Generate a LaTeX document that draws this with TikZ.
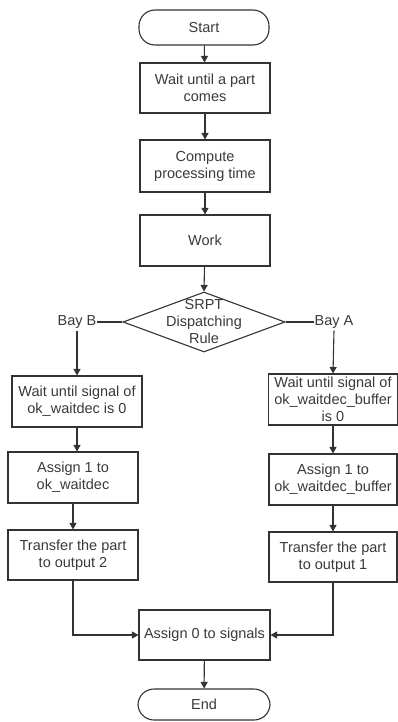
\documentclass[tikz,border=0pt]{standalone}
\usepackage{fontspec}
\setmainfont{Liberation Sans}
\usetikzlibrary{shapes.geometric,arrows.meta}
\definecolor{ln}{HTML}{333333}
\definecolor{tx}{HTML}{3A3A3A}
\begin{document}
\begin{tikzpicture}[x=1pt,y=-1pt,
  every node/.style={font=\fontsize{14.5}{17}\selectfont,text=tx,inner sep=0pt,align=center},
  box/.style={draw=ln,line width=1.1pt,fill=white,rectangle,minimum width=#1},
  box/.default=130pt,
  term/.style={draw=ln,line width=1.1pt,fill=white,rectangle,rounded corners=16pt,minimum width=130pt,minimum height=32pt},
  dia/.style={draw=ln,line width=1.1pt,fill=white,diamond,minimum width=162pt,minimum height=60pt},
  lbl/.style={fill=white},
  arr/.style={draw=ln,line width=1.1pt,-{Triangle[length=6.5pt,width=7pt]}},
  con/.style={draw=ln,line width=1.1pt}]
\useasboundingbox[fill=white] (0,0) rectangle (398,722);
\node[term,minimum height=35pt] (start) at (204,27.5) {Start};
\node[box,minimum height=50pt] (wait) at (205,88) {Wait until a part\\comes};
\node[box,minimum height=52pt] (comp) at (205,166) {Compute\\processing time};
\node[box,minimum height=51pt] (work) at (205,240.5) {Work};
\node[dia] (dec) at (204,322) {};
\node (dect) at (204,322) {SRPT\\Dispatching\\Rule};
\node (bayB) at (77,322) {Bay B};
\node (bayA) at (334,322) {Bay A};
\node[box,minimum height=51pt] (l1) at (77,401.5) {Wait until signal of\\ok\_waitdec is 0};
\node[box,minimum height=51pt] (l2) at (73,477.5) {Assign 1 to\\ok\_waitdec};
\node[box,minimum height=50pt] (l3) at (73,555) {Transfer the part\\to output 2};
\node[box=129pt,minimum height=51pt] (r1) at (333,399.5) {Wait until signal of\\ok\_waitdec\_buffer\\is 0};
\node[box=128pt,minimum height=51pt] (r2) at (333,479.5) {Assign 1 to\\ok\_waitdec\_buffer};
\node[box=128pt,minimum height=50pt] (r3) at (333,557) {Transfer the part\\to output 1};
\node[box=131pt,minimum height=50pt] (asg) at (204.5,635) {Assign 0 to signals};
\node[term,minimum width=132pt,minimum height=31pt] (end) at (204,704.5) {End};
\draw[arr] (start) -- (wait);
\draw[arr] (wait) -- (comp);
\draw[arr] (comp) -- (work);
\draw[arr] (work) -- (dec.north);
\draw[con] (dec.west) -- (bayB.east);
\draw[con] (dec.east) -- (bayA.west);
\draw[arr] (bayB.south) ++(0,2) -- (l1.north);
\draw[arr] (bayA.south) ++(0,2) -- (r1.north);
\draw[arr] (l1.south) ++(0,0) -- (l1.south |- l2.north);
\draw[arr] (l2) -- (l3);
\draw[arr] (r1) -- (r2);
\draw[arr] (r2) -- (r3);
\draw[arr] (l3.south) |- (asg.west);
\draw[arr] (r3.south) |- (asg.east);
\draw[arr] (asg) -- (end);
\end{tikzpicture}
\end{document}
